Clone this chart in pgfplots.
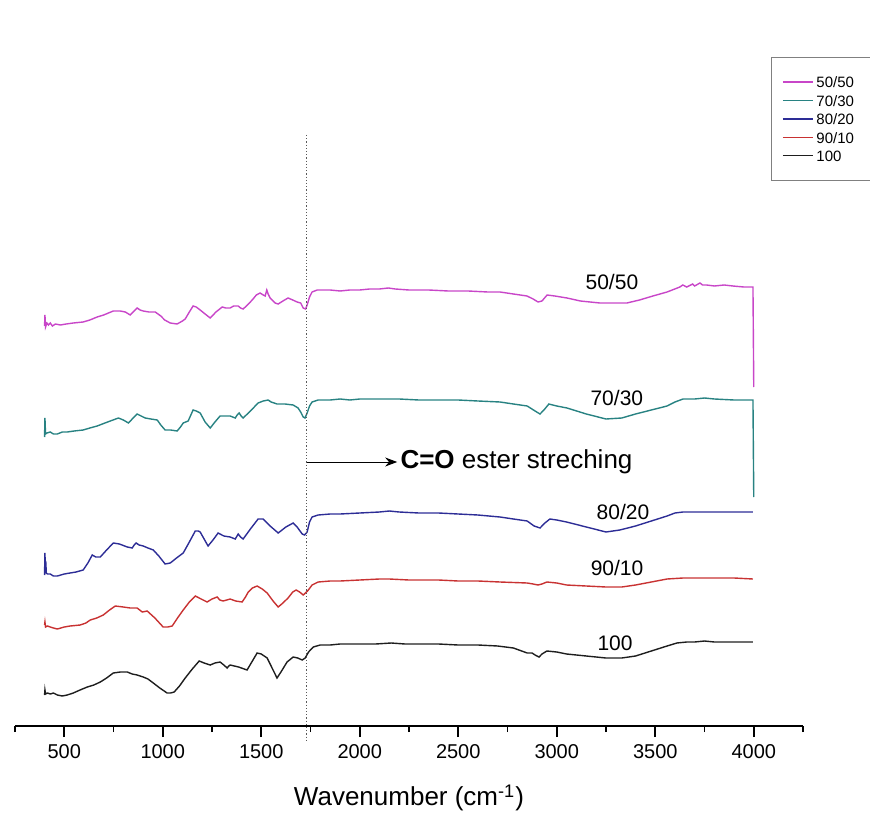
\documentclass[border=0pt]{standalone}
\usepackage{pgfplots}
\pgfplotsset{compat=1.18}
\usepackage{fontspec}
\setmainfont{Liberation Sans}
\usetikzlibrary{arrows.meta}

\definecolor{cA}{RGB}{200,70,200}
\definecolor{cB}{RGB}{40,130,130}
\definecolor{cC}{RGB}{45,45,150}
\definecolor{cD}{RGB}{200,50,50}
\definecolor{cE}{RGB}{30,30,30}

\begin{document}
\begin{tikzpicture}
\useasboundingbox (-7.5pt,-43.5pt) rectangle (427.5pt,363pt);
\begin{axis}[
  scale only axis,
  width=394pt, height=300pt,
  xmin=250, xmax=4250, ymin=0, ymax=600,
  axis x line*=bottom,
  hide y axis,
  axis line style={line width=1pt, -},
  xtick={500,1000,...,4000},
  minor xtick={250,750,...,4250},
  tick align=outside,
  major tick length=5.5pt,
  minor tick length=3pt,
  every tick/.style={line width=0.8pt, black},
  /pgf/number format/assume math mode=true,
  /pgf/number format/1000 sep={},
  xticklabel style={font=\fontsize{10}{11}\selectfont},
  xlabel={Wavenumber (cm\textsuperscript{-1})},
  x label style={at={(axis description cs:0.5,-0.12)}, anchor=center, font=\fontsize{13}{15}\selectfont},
  clip=false,
  legend style={at={(rel axis cs:0.959,1.115)}, anchor=north west, draw=gray, line width=0.4pt,
    font=\fontsize{7.5}{9}\selectfont, inner xsep=5.5pt, inner ysep=8pt, row sep=0.4pt,
    nodes={inner sep=1.5pt, text height=5.8pt, text depth=0pt}},
  legend cell align=left,
  legend image code/.code={\draw[#1] (0pt,0pt) -- (15pt,0pt);},
  every axis plot/.append style={line width=0.7pt},
]
% 50/50
\addplot[cA] coordinates {
(400,400)(402,411)(405,399)(412,403)(420,401)(429,403)(440,400)(455,402)(480,401)(510,402)
(546,403)(596,404)(630,406)(667,409)(700,411)(749,415)(784,415)(810,414)(835,411)(850,414)
(870,418)(885,416)(901,415)(930,414)(962,414)(990,410)(1010,406)(1038,403)(1073,402)(1100,405)
(1114,407)(1135,414)(1154,420)(1170,419)(1190,416)(1215,412)(1241,408)(1270,414)(1302,419)(1320,418)
(1342,418)(1360,420)(1383,420)(1395,418)(1408,417)(1430,421)(1454,426)(1475,431)(1494,433)(1510,431)
(1520,430)(1528,436)(1535,432)(1545,428)(1555,426)(1570,423)(1586,422)(1610,425)(1636,428)(1660,426)
(1682,424)(1700,423)(1713,418)(1725,417)(1733,421)(1745,429)(1758,434)(1784,436)(1850,436)(1900,435)
(1950,436)(2000,436)(2050,437)(2100,437)(2145,438)(2180,437)(2250,436)(2350,436)(2450,435)(2550,435)
(2650,434)(2712,434)(2780,432)(2849,430)(2880,427)(2905,424)(2925,425)(2951,431)(2990,430)(3052,428)
(3120,425)(3219,423)(3300,423)(3356,423)(3420,426)(3488,430)(3560,434)(3625,439)(3640,441)(3660,439)
(3690,442)(3700,440)(3727,443)(3740,441)(3760,441)(3800,440)(3850,441)(3894,440)(3950,439)(3996,439)
(4000,339)
};
\addlegendentry{50/50\hspace*{8pt}}
% 70/30
\addplot[cB] coordinates {
(400,289)(402,308)(405,292)(412,293)(429,294)(445,292)(465,292)(490,294)(515,294)(550,295)
(596,296)(630,298)(667,300)(720,304)(775,308)(800,306)(826,303)(845,307)(870,312)(890,310)
(911,308)(940,307)(972,306)(990,301)(1012,296)(1040,296)(1073,295)(1090,299)(1104,303)(1129,305)
(1145,312)(1154,316)(1170,315)(1190,313)(1215,304)(1241,298)(1265,304)(1291,310)(1315,310)(1342,310)
(1368,308)(1378,311)(1388,313)(1398,310)(1408,308)(1445,315)(1484,323)(1510,325)(1535,326)(1550,324)
(1580,322)(1620,322)(1662,321)(1687,318)(1700,314)(1713,309)(1722,308)(1733,313)(1745,320)(1758,324)
(1789,326)(1850,326)(1900,327)(1950,326)(2000,327)(2100,327)(2200,327)(2300,326)(2400,326)(2500,326)
(2600,325)(2712,324)(2780,322)(2850,320)(2890,315)(2915,312)(2935,316)(2960,322)(3000,320)(3052,318)
(3150,312)(3250,307)(3330,308)(3400,312)(3480,316)(3560,320)(3600,324)(3641,327)(3700,327)(3750,328)
(3800,327)(3900,326)(3996,326)(4000,229)
};
\addlegendentry{70/30}
% 80/20
\addplot[cC] coordinates {
(400,151)(402,173)(404,158)(406,165)(409,153)(415,152)(429,152)(445,150)(465,150)(500,152)
(530,153)(560,154)(596,156)(620,163)(642,171)(660,169)(683,169)(715,176)(749,183)(780,182)
(820,179)(845,178)(855,181)(865,183)(880,181)(901,180)(925,178)(952,176)(980,170)(1012,162)
(1038,163)(1070,168)(1104,173)(1135,184)(1165,195)(1180,195)(1190,194)(1210,187)(1230,180)(1255,186)
(1281,193)(1310,190)(1342,189)(1368,187)(1383,192)(1395,189)(1408,187)(1445,197)(1484,207)(1510,207)
(1545,200)(1586,193)(1625,199)(1662,203)(1682,199)(1708,192)(1720,191)(1733,194)(1745,204)(1758,209)
(1789,211)(1850,212)(1900,212)(2000,213)(2100,214)(2150,215)(2200,214)(2300,213)(2400,213)(2500,212)
(2600,211)(2712,209)(2780,207)(2850,205)(2885,200)(2915,198)(2940,203)(2965,207)(3000,206)(3050,204)
(3150,199)(3250,194)(3320,196)(3400,200)(3480,205)(3560,210)(3600,213)(3641,214)(3700,214)(3800,214)
(3900,214)(3996,214)
};
\addlegendentry{80/20}
% 90/10
\addplot[cD] coordinates {
(400,101)(402,104)(405,99)(415,100)(429,99)(445,98)(465,97)(500,99)(530,100)(581,101)
(610,103)(632,106)(665,108)(698,111)(730,116)(759,120)(800,119)(835,118)(870,118)(883,116)
(896,114)(921,115)(960,108)(1002,99)(1025,99)(1048,100)(1075,108)(1104,116)(1135,124)(1165,130)
(1195,127)(1225,124)(1250,127)(1276,129)(1290,126)(1306,125)(1325,126)(1342,127)(1370,125)(1403,124)
(1420,129)(1434,134)(1455,138)(1479,140)(1505,137)(1530,133)(1560,125)(1586,119)(1610,123)(1636,128)
(1660,134)(1677,136)(1695,134)(1713,131)(1735,135)(1758,141)(1789,144)(1850,145)(1900,145)(2000,146)
(2100,147)(2150,147)(2250,146)(2300,146)(2400,146)(2500,145)(2600,145)(2712,144)(2850,143)(2880,142)
(2905,141)(2925,142)(2950,144)(3000,143)(3050,141)(3150,140)(3250,139)(3330,139)(3400,141)(3480,144)
(3560,147)(3641,148)(3700,148)(3800,148)(3900,148)(3996,147)
};
\addlegendentry{90/10}
% 100
\addplot[cE] coordinates {
(400,31)(402,36)(405,32)(415,33)(430,32)(445,33)(465,31)(490,30)(515,31)(546,33)
(580,36)(617,39)(650,41)(683,44)(715,48)(749,53)(785,54)(820,54)(845,52)(870,51)
(901,49)(925,47)(952,43)(985,38)(1022,33)(1040,33)(1058,34)(1085,40)(1114,48)(1150,57)
(1185,65)(1210,63)(1241,61)(1265,63)(1291,64)(1310,61)(1327,58)(1335,60)(1342,61)(1385,59)
(1428,56)(1455,65)(1479,73)(1500,72)(1530,68)(1555,58)(1580,48)(1600,54)(1631,64)(1662,69)
(1685,68)(1708,66)(1723,68)(1740,74)(1764,79)(1799,81)(1850,81)(1900,82)(2000,82)(2080,82)
(2160,83)(2230,82)(2300,82)(2400,82)(2500,81)(2600,81)(2700,80)(2780,78)(2850,73)(2875,73)
(2890,71)(2910,69)(2925,72)(2950,75)(3000,74)(3050,72)(3150,70)(3250,68)(3330,68)(3400,70)
(3480,75)(3560,80)(3610,83)(3660,84)(3700,84)(3750,85)(3800,84)(3900,84)(3996,84)
};
\addlegendentry{100}

% carbonyl marker and annotation
\draw[densely dotted, gray!70!black, line width=0.6pt] (axis cs:1730,591) -- (axis cs:1730,-16);
\draw[-{Stealth[length=6pt,width=4.5pt]}, line width=0.5pt] (axis cs:1730,264) -- (axis cs:2190,264);
\node[anchor=west, inner sep=0pt, font=\fontsize{13}{15}\selectfont] at (axis cs:2205,264) {\textbf{C=O} ester streching};

% series labels
\node[font=\fontsize{10.5}{12}\selectfont] at (axis cs:3280,444) {50/50};
\node[font=\fontsize{10.5}{12}\selectfont] at (axis cs:3305,328) {70/30};
\node[font=\fontsize{10.5}{12}\selectfont] at (axis cs:3336,214) {80/20};
\node[font=\fontsize{10.5}{12}\selectfont] at (axis cs:3306,158) {90/10};
\node[font=\fontsize{10.5}{12}\selectfont] at (axis cs:3296,83) {100};
\end{axis}
\end{tikzpicture}
\end{document}
